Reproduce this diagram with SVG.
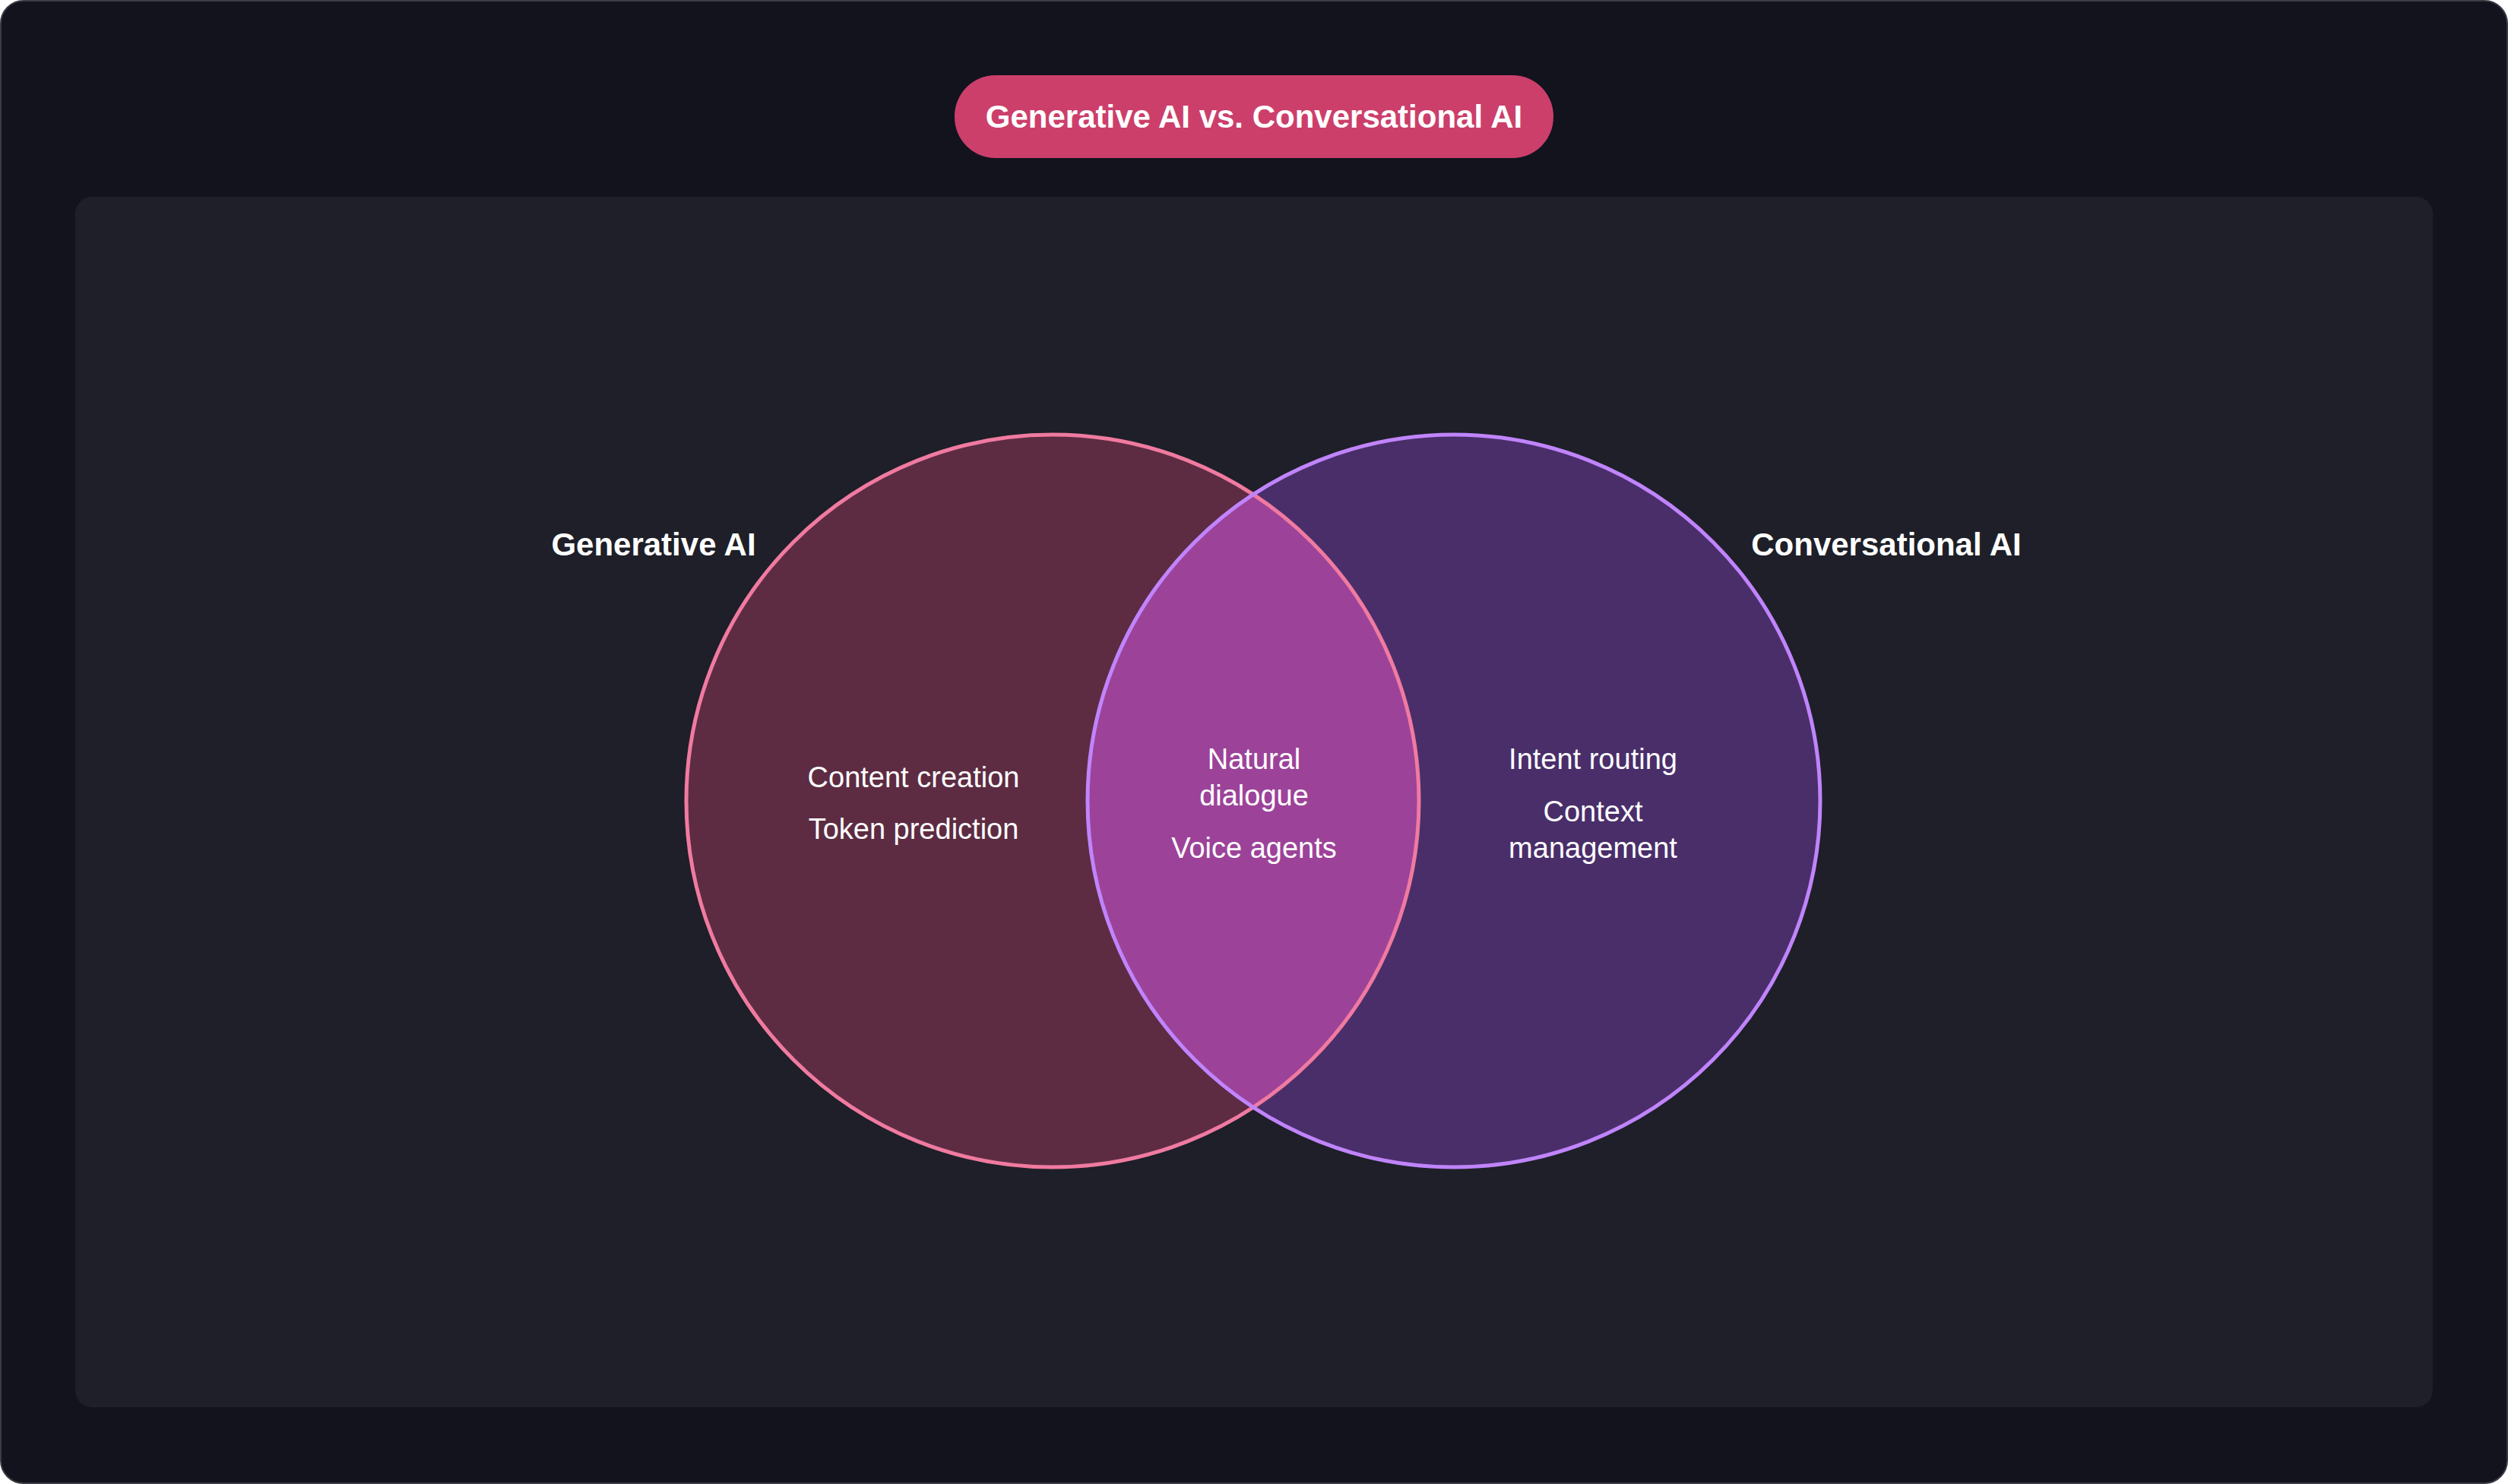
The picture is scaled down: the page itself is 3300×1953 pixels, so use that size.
<svg xmlns="http://www.w3.org/2000/svg" width="3300" height="1953" viewBox="0 0 3300 1953">
<style>
.t{font-family:"Liberation Sans",Arial,sans-serif;fill:#ffffff;text-anchor:middle}
.b{font-size:38px}
.h{font-size:42px;font-weight:bold}
</style>
<defs>
<clipPath id="cl"><circle cx="1385" cy="1054" r="482"/></clipPath>
</defs>
<rect x="1" y="1" width="3298" height="1951" rx="30" fill="#12131d" stroke="#3a3b45" stroke-width="2"/>
<rect x="99" y="259" width="3102" height="1593" rx="22" fill="#1e1f28"/>
<g id="title">
<rect x="1256" y="99" width="788" height="109" rx="54" fill="#cc3f6b"/>
<text class="t h" x="1650" y="168" font-family="Inter,'Liberation Sans',sans-serif">Generative AI vs. Conversational AI</text>
</g>
<g id="generative">
<circle cx="1385" cy="1054" r="482" fill="#5d2c43"/>
</g>
<g id="conversational">
<circle cx="1913" cy="1054" r="482" fill="#4a2e6a"/>
</g>
<g id="overlap">
<circle cx="1913" cy="1054" r="482" fill="#9c4399" clip-path="url(#cl)"/>
</g>
<g id="outlines" fill="none" stroke-width="5">
<circle cx="1385" cy="1054" r="482" stroke="#f07aa0"/>
<circle cx="1913" cy="1054" r="482" stroke="#c084fc"/>
</g>
<g id="labels">
<text class="t h" x="860" y="731">Generative AI</text>
<text class="t h" x="2482" y="731">Conversational AI</text>
<text class="t b" x="1202" y="1036">Content creation</text>
<text class="t b" x="1202" y="1104">Token prediction</text>
<text class="t b" x="1650" y="1012">Natural</text>
<text class="t b" x="1650" y="1060">dialogue</text>
<text class="t b" x="1650" y="1129">Voice agents</text>
<text class="t b" x="2096" y="1012">Intent routing</text>
<text class="t b" x="2096" y="1081">Context</text>
<text class="t b" x="2096" y="1129">management</text>
</g>
</svg>
